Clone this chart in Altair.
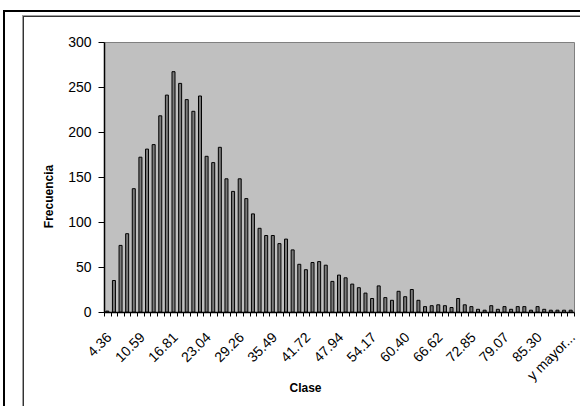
import json
import altair as alt
import pandas as pd

# Category (class) labels as shown by the Excel histogram
clases = [
    "4.36", "5.61", "6.85", "8.10", "9.34", "10.59", "11.83", "13.08", "14.32", "15.57",
    "16.81", "18.06", "19.30", "20.55", "21.79", "23.04", "24.28", "25.53", "26.77", "28.02",
    "29.26", "30.51", "31.76", "33.00", "34.25", "35.49", "36.74", "37.98", "39.23", "40.47",
    "41.72", "42.96", "44.21", "45.45", "46.70", "47.94", "49.19", "50.43", "51.68", "52.92",
    "54.17", "55.41", "56.66", "57.90", "59.15", "60.40", "61.64", "62.89", "64.13", "65.38",
    "66.62", "67.87", "69.11", "70.36", "71.60", "72.85", "74.09", "75.34", "76.58", "77.83",
    "79.07", "80.32", "81.56", "82.81", "84.05", "85.30", "86.55", "87.79", "89.04", "90.28",
    "y mayor...",
]

# Frequencies
frecuencia = [
    1, 35, 74, 87, 137, 172, 181, 186, 218, 241,
    267, 254, 236, 223, 240, 173, 166, 183, 148, 134,
    148, 126, 109, 93, 85, 85, 76, 81, 69, 53,
    47, 55, 56, 52, 34, 41, 38, 31, 27, 21,
    15, 29, 16, 13, 23, 17, 25, 13, 6, 7,
    8, 7, 5, 15, 8, 6, 3, 2, 7, 3,
    6, 3, 6, 6, 2, 6, 3, 2, 2, 2,
    2,
]

# Tick labels that are actually printed on the x axis
etiquetas = ["4.36", "10.59", "16.81", "23.04", "29.26", "35.49", "41.72", "47.94",
             "54.17", "60.40", "66.62", "72.85", "79.07", "85.30", "y mayor..."]

y_ticks = [0, 50, 100, 150, 200, 250, 300]

df = pd.DataFrame({"Clase": clases, "Frecuencia": frecuencia})

FONT = "Liberation Sans"

label_expr = "indexof(" + json.dumps(etiquetas) + ", datum.value) >= 0 ? datum.value : ''"

bars = alt.Chart(df).mark_bar(
    size=3.0, color="#7a7a7a", stroke="#000000", strokeWidth=1
).encode(
    x=alt.X(
        "Clase:N",
        sort=clases,
        scale=alt.Scale(paddingInner=0, paddingOuter=0),
        axis=alt.Axis(
            title="Clase",
            titleFont=FONT, titleFontSize=12, titleFontWeight="bold", titleColor="#000",
            titleX=201, titleY=75, titleAlign="center", titleBaseline="middle",
            labelExpr=label_expr, labelOverlap=False,
            labelAngle=-45, labelAlign="right", labelBaseline="top",
            labelPadding=14, labelOffset=-3,
            labelFont=FONT, labelFontSize=14, labelColor="#000",
            tickBand="extent", tickSize=4, tickColor="#000", tickWidth=1,
            domainColor="#000", domainWidth=1.5,
        ),
    ),
    y=alt.Y(
        "Frecuencia:Q",
        scale=alt.Scale(domain=[0, 300], nice=False),
        axis=alt.Axis(
            title="Frecuencia",
            titleFont=FONT, titleFontSize=12, titleFontWeight="bold", titleColor="#000",
            titleX=-56, titleY=154, titleAlign="center", titleBaseline="middle", titleAngle=270,
            values=y_ticks, grid=False,
            labelFont=FONT, labelFontSize=14, labelColor="#000", labelPadding=7,
            tickSize=6, tickColor="#000", domainColor="#000", domainWidth=1.5,
        ),
    ),
)

frame_df = pd.DataFrame({"f": [0]})

outer_left = alt.Chart(frame_df).mark_rule(color="#000", strokeWidth=2).encode(
    x=alt.value(-100), y=alt.value(-32), y2=alt.value(364))
outer_top = alt.Chart(frame_df).mark_rule(color="#000", strokeWidth=2).encode(
    y=alt.value(-31), x=alt.value(-101), x2=alt.value(476))
inner_left_g = alt.Chart(frame_df).mark_rule(color="#a0a0a0", strokeWidth=1).encode(
    x=alt.value(-81.5), y=alt.value(-27), y2=alt.value(364))
inner_top_g = alt.Chart(frame_df).mark_rule(color="#a0a0a0", strokeWidth=1).encode(
    y=alt.value(-26.5), x=alt.value(-82), x2=alt.value(476))
inner_left = alt.Chart(frame_df).mark_rule(color="#333", strokeWidth=1).encode(
    x=alt.value(-80.5), y=alt.value(-26), y2=alt.value(364))
inner_top = alt.Chart(frame_df).mark_rule(color="#333", strokeWidth=1).encode(
    y=alt.value(-25.5), x=alt.value(-81), x2=alt.value(476))

chart = alt.layer(
    bars, outer_left, outer_top, inner_left_g, inner_top_g, inner_left, inner_top
).properties(
    width=470,
    height=270,
    padding={"left": 104, "top": 42, "right": 6, "bottom": 94},
    autosize=alt.AutoSizeParams(type="none"),
    background="#ffffff",
).configure_view(
    fill="#c0c0c0", stroke="#808080", strokeWidth=1
)

chart.save("out.html", embed_options={"renderer": "svg", "actions": False})
